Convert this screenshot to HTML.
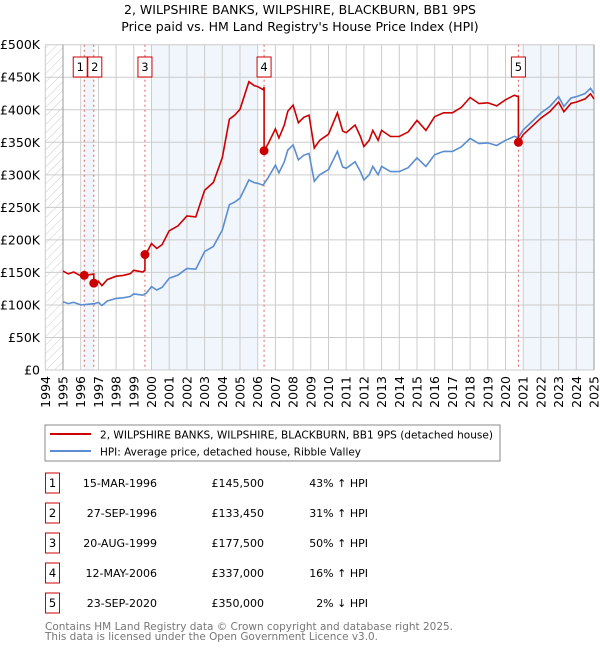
<!DOCTYPE html>
<html><head><meta charset="utf-8"><style>
body{margin:0;background:#fff;width:600px;height:650px;overflow:hidden;font-family:"DejaVu Sans","Liberation Sans",sans-serif}
svg text{font-family:"DejaVu Sans","Liberation Sans",sans-serif}
</style></head><body>
<svg id="c" width="600" height="650" xmlns="http://www.w3.org/2000/svg">
<defs><pattern id="hatch" width="6" height="6" patternUnits="userSpaceOnUse" patternTransform="rotate(45)"><line x1="0" y1="0" x2="0" y2="6" stroke="#ccc" stroke-width="1"/></pattern></defs>
<text x="300" y="14" text-anchor="middle" font-size="12.5">2, WILPSHIRE BANKS, WILPSHIRE, BLACKBURN, BB1 9PS</text>
<text x="300" y="31" text-anchor="middle" font-size="12.5">Price paid vs. HM Land Registry's House Price Index (HPI)</text>
<g id="plot"></g>
<rect x="45" y="425" width="455" height="36" fill="#fff" stroke="#888"/>
<line x1="50" y1="434" x2="91" y2="434" stroke="#cc0000" stroke-width="2"/>
<text x="100" y="438.5" font-size="10.8" textLength="393" lengthAdjust="spacingAndGlyphs">2, WILPSHIRE BANKS, WILPSHIRE, BLACKBURN, BB1 9PS (detached house)</text>
<line x1="50" y1="451" x2="91" y2="451" stroke="#5b8dd0" stroke-width="2"/>
<text x="100" y="455.5" font-size="10.8" textLength="261" lengthAdjust="spacingAndGlyphs">HPI: Average price, detached house, Ribble Valley</text>
<g id="table"></g>
<text x="45" y="630" font-size="11" fill="#777" textLength="408" lengthAdjust="spacingAndGlyphs">Contains HM Land Registry data © Crown copyright and database right 2025.</text>
<text x="45" y="640" font-size="11" fill="#777" textLength="333" lengthAdjust="spacingAndGlyphs">This data is licensed under the Open Government Licence v3.0.</text>
</svg>
<script>
const hpiYears=[1995,1995.3,1995.6,1996,1996.4,1996.8,1997,1997.2,1997.5,1998,1998.4,1998.8,1999,1999.5,1999.7,2000,2000.3,2000.6,2001,2001.5,2002,2002.5,2003,2003.5,2004,2004.4,2004.7,2005,2005.5,2005.8,2006,2006.3,2006.6,2007,2007.2,2007.5,2007.7,2008,2008.3,2008.6,2008.9,2009.2,2009.5,2010,2010.5,2010.8,2011,2011.5,2011.8,2012,2012.3,2012.5,2012.8,2013,2013.5,2014,2014.5,2015,2015.5,2016,2016.5,2017,2017.5,2018,2018.5,2019,2019.5,2020,2020.5,2020.73,2021,2021.5,2022,2022.5,2023,2023.3,2023.7,2024,2024.5,2024.8,2025];
const hpiValues=[105,102,104,100,101,102,104,99,106,110,111,113,117,115,118,128,123,127,141,146,156,155,182,190,215,254,258,264,292,288,287,284,296,315,303,320,338,346,323,330,333,290,300,308,336,312,310,320,305,292,300,313,300,313,305,305,311,326,313,331,336,336,343,356,348,349,345,353,359,357,369,382,395,405,420,405,418,420,425,433,425];
const saleLabels=["1","2","3","4","5"];
const saleYears=[1996.2,1996.74,1999.63,2006.36,2020.73];
const salePrices=[145.5,133.45,177.5,337,350];
const saleDates=["15-MAR-1996","27-SEP-1996","20-AUG-1999","12-MAY-2006","23-SEP-2020"];
const salePriceText=["£145,500","£133,450","£177,500","£337,000","£350,000"];
const saleHpiText=["43% ↑ HPI","31% ↑ HPI","50% ↑ HPI","16% ↑ HPI"," 2% ↓ HPI"];
const yTicks=[0,50,100,150,200,250,300,350,400,450,500];
const yTickLabels=["£0","£50K","£100K","£150K","£200K","£250K","£300K","£350K","£400K","£450K","£500K"];
const xTicks=[1994,1995,1996,1997,1998,1999,2000,2001,2002,2003,2004,2005,2006,2007,2008,2009,2010,2011,2012,2013,2014,2015,2016,2017,2018,2019,2020,2021,2022,2023,2024,2025];

const X0=45.3,X1=594,Y0=370,Y1=44.7;
const xs=t=>X0+(t-1994)/(2025-1994)*(X1-X0);
const ys=v=>Y0-v/500*(Y0-Y1);
const NS="http://www.w3.org/2000/svg";
const plot=document.getElementById('plot');
function mk(tag,attrs,parent){const e=document.createElementNS(NS,tag);for(const k in attrs)e.setAttribute(k,attrs[k]);(parent||plot).appendChild(e);return e;}
function hpiAt(t){for(let i=0;i<hpiYears.length-1;i++){if(t<=hpiYears[i+1]){const f=(t-hpiYears[i])/(hpiYears[i+1]-hpiYears[i]);return hpiValues[i]+f*(hpiValues[i+1]-hpiValues[i]);}}return hpiValues[hpiValues.length-1];}

let e;
e=mk('rect',{x:xs(1994),y:Y1,width:xs(1995)-xs(1994),height:Y0-Y1,fill:'url(#hatch)'});


const shades=[[1996.2,1996.74],[2000,2006],[2021,2025]];
shades.forEach(s=>{e=mk('rect',{x:xs(s[0]),y:Y1,width:xs(s[1])-xs(s[0]),height:Y0-Y1,fill:'#eef2fb',opacity:0.8});

});
yTicks.forEach((v,i)=>{e=mk('line',{x1:X0,x2:X1,y1:ys(v),y2:ys(v),stroke:'#ccc','stroke-width':1});


e=mk('text',{x:40,y:ys(v)+4.5,'text-anchor':'end','font-size':12.5});e.textContent=yTickLabels[i];

});
xTicks.forEach(t=>{e=mk('line',{x1:xs(t),x2:xs(t),y1:Y1,y2:Y0,stroke:'#ccc','stroke-width':1});


e=mk('text',{x:0,y:0,'font-size':12.5,transform:`translate(${xs(t)+4.5},${Y0+6}) rotate(-90)`,'text-anchor':'end'});e.textContent=t;

});
e=mk('line',{x1:xs(1995),x2:xs(1995),y1:Y1,y2:Y0,stroke:'#999'});


e=mk('line',{x1:X1,x2:X1,y1:Y1,y2:Y0,stroke:'#999'});


saleYears.forEach(t=>{e=mk('line',{x1:xs(t),x2:xs(t),y1:Y1,y2:Y0,stroke:'#e06060','stroke-dasharray':'2,3','stroke-width':1});

});

let d=hpiYears.map((t,i)=>(i?'L':'M')+xs(t).toFixed(1)+','+ys(hpiValues[i]).toFixed(1)).join('');
e=mk('path',{d:d,fill:'none',stroke:'#5b8dd0','stroke-width':1.6});


const ratios=saleYears.map((t,i)=>salePrices[i]/hpiAt(t));
function redAt(t){let k=0;for(let i=0;i<saleYears.length;i++)if(saleYears[i]<=t)k=i;return hpiAt(t)*ratios[k];}
const pts=[];
hpiYears.forEach(t=>pts.push([t,0]));
saleYears.forEach(t=>{pts.push([t-0.001,-1]);pts.push([t,0]);});
pts.sort((a,b)=>a[0]-b[0]);
d=pts.map((p,i)=>{const t=p[0];let v;if(p[1]===-1){let k=0;for(let j=0;j<saleYears.length;j++)if(saleYears[j]<t)k=j;v=hpiAt(t)*ratios[k];}else v=redAt(t);return (i?'L':'M')+xs(t).toFixed(1)+','+ys(v).toFixed(1);}).join('');
e=mk('path',{d:d,fill:'none',stroke:'#cc0000','stroke-width':1.6});


saleYears.forEach((t,i)=>{e=mk('circle',{cx:xs(t),cy:ys(salePrices[i]),r:4.5,fill:'#cc0000'});

});
saleYears.forEach((t,i)=>{let cx=xs(t);if(i===0)cx-=4;if(i===1)cx+=1;
e=mk('rect',{x:cx-7,y:57,width:14,height:20,fill:'#fff',stroke:'#cc0000'});


e=mk('text',{x:cx,y:71,'text-anchor':'middle','font-size':11.5});e.textContent=saleLabels[i];

});
const tb=document.getElementById('table');
saleLabels.forEach((l,i)=>{const cy=483+i*30;
e=mk('rect',{x:45.5,y:cy-10,width:14,height:20,fill:'#fff',stroke:'#cc0000'},tb);


e=mk('text',{x:52.5,y:cy+4,'text-anchor':'middle','font-size':11.5},tb);e.textContent=l;


e=mk('text',{x:157,y:cy+4,'text-anchor':'end','font-size':11},tb);e.textContent=saleDates[i];


e=mk('text',{x:264,y:cy+4,'text-anchor':'end','font-size':11},tb);e.textContent=salePriceText[i];


e=mk('text',{x:368,y:cy+4,'text-anchor':'end','font-size':11,'xml:space':'preserve'},tb);e.textContent=saleHpiText[i];

});
</script>
</body></html>
